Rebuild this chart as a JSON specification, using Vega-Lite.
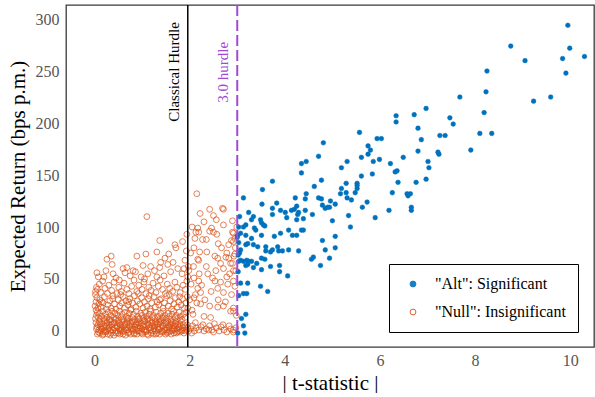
{
"$schema": "https://vega.github.io/schema/vega-lite/v6.json",
"width": 528, "height": 342,
"padding": {"left": 7, "top": 4, "right": 2, "bottom": 0},
"background": "white",
"config": {
  "font": "Liberation Serif",
  "view": {"stroke": "#3a3a3a", "strokeWidth": 1.3},
  "axis": {"domain": false, "ticks": false, "grid": false, "labelFont": "Liberation Serif", "titleFont": "Liberation Serif", "labelColor": "#555555", "labelFontSize": 16, "titleFontSize": 21, "titleFontWeight": "normal", "titleColor": "#000000"}
},
"datasets": {
"nul": [
{"t":0.04,"r":2},{"t":0.06,"r":-3},{"t":0.07,"r":6},{"t":0.09,"r":1},{"t":0.1,"r":9},{"t":0.11,"r":-2},{"t":0.13,"r":4},{"t":0.14,"r":0},{"t":0.16,"r":7},{"t":0.17,"r":-4},{"t":0.19,"r":3},{"t":0.2,"r":10},{"t":0.22,"r":1},{"t":0.23,"r":-1},{"t":0.25,"r":5},{"t":0.26,"r":8},{"t":0.28,"r":-3},{"t":0.29,"r":2},{"t":0.31,"r":6},{"t":0.32,"r":0},{"t":0.34,"r":9},{"t":0.35,"r":-2},{"t":0.37,"r":4},{"t":0.38,"r":1},{"t":0.4,"r":7},{"t":0.41,"r":-4},{"t":0.43,"r":3},{"t":0.44,"r":11},{"t":0.46,"r":0},{"t":0.47,"r":5},{"t":0.49,"r":-2},{"t":0.5,"r":8},{"t":0.52,"r":2},{"t":0.53,"r":-3},{"t":0.55,"r":6},{"t":0.56,"r":1},{"t":0.58,"r":9},{"t":0.59,"r":-1},{"t":0.61,"r":4},{"t":0.62,"r":0},{"t":0.64,"r":7},{"t":0.65,"r":-4},{"t":0.67,"r":3},{"t":0.68,"r":10},{"t":0.7,"r":1},{"t":0.71,"r":-2},{"t":0.73,"r":5},{"t":0.74,"r":8},{"t":0.76,"r":-3},{"t":0.77,"r":2},{"t":0.79,"r":6},{"t":0.8,"r":0},{"t":0.82,"r":9},{"t":0.83,"r":-2},{"t":0.85,"r":4},{"t":0.86,"r":1},{"t":0.88,"r":7},{"t":0.89,"r":-3},{"t":0.91,"r":3},{"t":0.92,"r":11},{"t":0.94,"r":0},{"t":0.95,"r":5},{"t":0.97,"r":-1},{"t":0.98,"r":8},{"t":1.0,"r":2},{"t":1.01,"r":-3},{"t":1.03,"r":6},{"t":1.04,"r":1},{"t":1.06,"r":9},{"t":1.07,"r":-1},{"t":1.09,"r":4},{"t":1.1,"r":0},{"t":1.12,"r":7},{"t":1.13,"r":-4},{"t":1.15,"r":3},{"t":1.16,"r":10},{"t":1.18,"r":1},{"t":1.19,"r":-2},{"t":1.21,"r":5},{"t":1.22,"r":8},{"t":1.24,"r":-3},{"t":1.25,"r":2},{"t":1.27,"r":6},{"t":1.28,"r":0},{"t":1.3,"r":9},{"t":1.31,"r":-2},{"t":1.33,"r":4},{"t":1.34,"r":1},{"t":1.36,"r":7},{"t":1.37,"r":-3},{"t":1.39,"r":3},{"t":1.4,"r":10},{"t":1.42,"r":0},{"t":1.43,"r":5},{"t":1.45,"r":-1},{"t":1.46,"r":8},{"t":1.48,"r":2},{"t":1.49,"r":-3},{"t":1.51,"r":6},{"t":1.52,"r":1},{"t":1.54,"r":9},{"t":1.55,"r":-1},{"t":1.57,"r":4},{"t":1.58,"r":0},{"t":1.6,"r":7},{"t":1.61,"r":-3},{"t":1.63,"r":3},{"t":1.64,"r":8},{"t":1.66,"r":1},{"t":1.67,"r":-2},{"t":1.69,"r":5},{"t":1.7,"r":7},{"t":1.72,"r":-2},{"t":1.73,"r":2},{"t":1.75,"r":6},{"t":1.76,"r":0},{"t":1.78,"r":4},{"t":1.8,"r":-1},{"t":1.82,"r":5},{"t":1.84,"r":1},{"t":1.86,"r":3},{"t":1.88,"r":-2},{"t":1.9,"r":4},{"t":1.93,"r":1},{"t":1.96,"r":3},
{"t":0.05,"r":4},{"t":0.08,"r":-1},{"t":0.12,"r":7},{"t":0.15,"r":2},{"t":0.18,"r":-3},{"t":0.21,"r":5},{"t":0.24,"r":0},{"t":0.27,"r":9},{"t":0.3,"r":3},{"t":0.33,"r":-4},{"t":0.36,"r":6},{"t":0.39,"r":1},{"t":0.42,"r":8},{"t":0.45,"r":-2},{"t":0.48,"r":4},{"t":0.51,"r":10},{"t":0.54,"r":0},{"t":0.57,"r":3},{"t":0.6,"r":-3},{"t":0.63,"r":6},{"t":0.66,"r":1},{"t":0.69,"r":8},{"t":0.72,"r":-1},{"t":0.75,"r":4},{"t":0.78,"r":9},{"t":0.81,"r":2},{"t":0.84,"r":-3},{"t":0.87,"r":6},{"t":0.9,"r":0},{"t":0.93,"r":7},{"t":0.96,"r":3},{"t":0.99,"r":-2},{"t":1.02,"r":5},{"t":1.05,"r":10},{"t":1.08,"r":1},{"t":1.11,"r":-3},{"t":1.14,"r":6},{"t":1.17,"r":3},{"t":1.2,"r":8},{"t":1.23,"r":0},{"t":1.26,"r":4},{"t":1.29,"r":-3},{"t":1.32,"r":7},{"t":1.35,"r":2},{"t":1.38,"r":9},{"t":1.41,"r":-1},{"t":1.44,"r":5},{"t":1.47,"r":1},{"t":1.5,"r":8},{"t":1.53,"r":-2},{"t":1.56,"r":3},{"t":1.59,"r":6},{"t":1.62,"r":0},{"t":1.65,"r":5},{"t":1.68,"r":2},{"t":1.71,"r":9},{"t":1.74,"r":-1},{"t":1.77,"r":3},{"t":1.79,"r":7},{"t":1.83,"r":0},{"t":1.87,"r":6},{"t":1.91,"r":0},{"t":1.95,"r":6},{"t":1.98,"r":0},
{"t":2.02,"r":2},{"t":2.06,"r":5},{"t":2.1,"r":0},{"t":2.14,"r":3},{"t":2.19,"r":1},{"t":2.24,"r":4},{"t":2.3,"r":0},{"t":2.35,"r":2},{"t":2.42,"r":5},{"t":2.47,"r":1},{"t":2.5,"r":-1},{"t":2.56,"r":3},{"t":2.62,"r":0},{"t":2.66,"r":4},{"t":2.72,"r":1},{"t":2.78,"r":-1},{"t":2.86,"r":2},{"t":2.92,"r":1},{"t":2.97,"r":3},{"t":2.04,"r":-2},{"t":2.12,"r":8},{"t":2.28,"r":6},{"t":2.4,"r":1},{"t":2.52,"r":7},{"t":2.7,"r":6},{"t":2.83,"r":5},
{"t":0.02,"r":12},{"t":0.04,"r":15},{"t":0.06,"r":18},{"t":0.03,"r":20},{"t":0.08,"r":13},{"t":0.1,"r":17},{"t":0.12,"r":11},{"t":0.15,"r":14},{"t":0.17,"r":19},{"t":0.2,"r":12},{"t":0.23,"r":16},{"t":0.26,"r":13},{"t":0.29,"r":18},{"t":0.31,"r":11},{"t":0.34,"r":15},{"t":0.37,"r":19},{"t":0.4,"r":13},{"t":0.43,"r":17},{"t":0.46,"r":12},{"t":0.49,"r":15},{"t":0.52,"r":19},{"t":0.55,"r":13},{"t":0.58,"r":16},{"t":0.61,"r":11},{"t":0.64,"r":18},{"t":0.67,"r":14},{"t":0.7,"r":12},{"t":0.73,"r":17},{"t":0.76,"r":20},{"t":0.79,"r":13},{"t":0.82,"r":16},{"t":0.85,"r":11},{"t":0.88,"r":19},{"t":0.91,"r":14},{"t":0.94,"r":12},{"t":0.97,"r":17},{"t":1.0,"r":15},{"t":1.03,"r":12},{"t":1.06,"r":18},{"t":1.09,"r":14},{"t":1.12,"r":11},{"t":1.15,"r":16},{"t":1.18,"r":19},{"t":1.21,"r":13},{"t":1.24,"r":15},{"t":1.27,"r":12},{"t":1.3,"r":18},{"t":1.33,"r":14},{"t":1.36,"r":11},{"t":1.39,"r":17},{"t":1.42,"r":13},{"t":1.45,"r":19},{"t":1.48,"r":15},{"t":1.51,"r":12},{"t":1.54,"r":17},{"t":1.57,"r":14},{"t":1.6,"r":11},{"t":1.63,"r":16},{"t":1.66,"r":19},{"t":1.69,"r":13},{"t":1.72,"r":15},{"t":1.75,"r":12},{"t":1.78,"r":18},{"t":1.81,"r":14},{"t":1.84,"r":11},{"t":1.87,"r":16},{"t":1.9,"r":13},{"t":1.93,"r":18},
{"t":0.01,"r":24},{"t":0.03,"r":28},{"t":0.05,"r":32},{"t":0.02,"r":35},{"t":0.07,"r":22},{"t":0.09,"r":26},{"t":0.11,"r":30},{"t":0.14,"r":23},{"t":0.18,"r":27},{"t":0.21,"r":33},{"t":0.25,"r":21},{"t":0.28,"r":25},{"t":0.32,"r":29},{"t":0.35,"r":22},{"t":0.39,"r":34},{"t":0.42,"r":26},{"t":0.45,"r":21},{"t":0.5,"r":30},{"t":0.53,"r":24},{"t":0.57,"r":27},{"t":0.6,"r":33},{"t":0.63,"r":22},{"t":0.66,"r":29},{"t":0.7,"r":25},{"t":0.74,"r":31},{"t":0.77,"r":21},{"t":0.8,"r":27},{"t":0.84,"r":34},{"t":0.87,"r":23},{"t":0.9,"r":29},{"t":0.95,"r":26},{"t":0.99,"r":32},{"t":1.02,"r":22},{"t":1.05,"r":28},{"t":1.1,"r":24},{"t":1.13,"r":31},{"t":1.17,"r":21},{"t":1.2,"r":27},{"t":1.25,"r":33},{"t":1.28,"r":23},{"t":1.32,"r":28},{"t":1.35,"r":25},{"t":1.4,"r":31},{"t":1.44,"r":22},{"t":1.47,"r":27},{"t":1.52,"r":34},{"t":1.55,"r":24},{"t":1.59,"r":29},{"t":1.62,"r":21},{"t":1.67,"r":26},{"t":1.7,"r":32},{"t":1.74,"r":23},{"t":1.77,"r":28},{"t":1.82,"r":25},{"t":1.85,"r":31},{"t":1.89,"r":22},{"t":1.92,"r":27},{"t":1.95,"r":33},
{"t":0.02,"r":38},{"t":0.04,"r":42},{"t":0.06,"r":40},{"t":0.1,"r":45},{"t":0.13,"r":37},{"t":0.17,"r":48},{"t":0.22,"r":41},{"t":0.27,"r":36},{"t":0.3,"r":44},{"t":0.36,"r":39},{"t":0.41,"r":47},{"t":0.47,"r":36},{"t":0.51,"r":42},{"t":0.56,"r":38},{"t":0.62,"r":46},{"t":0.68,"r":40},{"t":0.72,"r":36},{"t":0.78,"r":43},{"t":0.83,"r":49},{"t":0.89,"r":38},{"t":0.93,"r":44},{"t":1.0,"r":40},{"t":1.04,"r":47},{"t":1.08,"r":36},{"t":1.14,"r":42},{"t":1.19,"r":39},{"t":1.23,"r":46},{"t":1.29,"r":37},{"t":1.34,"r":43},{"t":1.38,"r":49},{"t":1.43,"r":40},{"t":1.49,"r":36},{"t":1.53,"r":45},{"t":1.58,"r":41},{"t":1.64,"r":38},{"t":1.69,"r":47},{"t":1.73,"r":42},{"t":1.8,"r":37},{"t":1.86,"r":44},{"t":1.91,"r":40},{"t":1.94,"r":48},
{"t":0.05,"r":56},{"t":0.08,"r":52},{"t":0.24,"r":58},{"t":0.35,"r":72},{"t":0.37,"r":64},{"t":0.39,"r":55},{"t":0.45,"r":51},{"t":0.6,"r":60},{"t":0.64,"r":56},{"t":0.68,"r":61},{"t":0.75,"r":53},{"t":0.86,"r":57},{"t":0.98,"r":52},{"t":1.02,"r":63},{"t":1.12,"r":55},{"t":1.18,"r":62},{"t":1.26,"r":58},{"t":1.37,"r":61},{"t":1.39,"r":66},{"t":1.46,"r":53},{"t":1.54,"r":64},{"t":1.6,"r":57},{"t":1.75,"r":60},{"t":1.84,"r":55},{"t":1.9,"r":68},{"t":1.96,"r":52},{"t":1.97,"r":62},
{"t":0.89,"r":72},{"t":1.08,"r":74},{"t":1.31,"r":76},{"t":1.37,"r":87},{"t":1.56,"r":74},{"t":1.69,"r":83},{"t":1.71,"r":80},{"t":1.1,"r":110},{"t":1.94,"r":93},{"t":0.26,"r":69},{"t":1.48,"r":70},
{"t":2.15,"r":132},{"t":2.42,"r":117},{"t":2.69,"r":118},{"t":2.71,"r":117},{"t":2.5,"r":111},{"t":2.17,"r":99},{"t":2.13,"r":95},{"t":2.19,"r":95},{"t":2.11,"r":89},{"t":2.27,"r":88},{"t":2.42,"r":96},{"t":2.5,"r":95},{"t":2.57,"r":93},{"t":2.71,"r":102},{"t":2.46,"r":99},
{"t":2.9,"r":95},{"t":2.95,"r":89},{"t":2.92,"r":86},{"t":2.88,"r":87},{"t":2.82,"r":83},{"t":2.78,"r":75},{"t":2.67,"r":80},{"t":2.76,"r":71},{"t":2.59,"r":70},{"t":2.82,"r":70},{"t":2.86,"r":65},{"t":2.9,"r":65},{"t":2.65,"r":65},{"t":2.53,"r":72},{"t":2.36,"r":76},{"t":2.21,"r":76},{"t":2.17,"r":69},{"t":2.09,"r":80},{"t":2.02,"r":75},{"t":2.19,"r":68},
{"t":1.98,"r":58},{"t":2.09,"r":51},{"t":2.19,"r":48},{"t":2.17,"r":41},{"t":2.23,"r":37},{"t":2.38,"r":55},{"t":2.48,"r":51},{"t":2.53,"r":48},{"t":2.59,"r":41},{"t":2.71,"r":37},{"t":2.8,"r":45},{"t":2.84,"r":55},{"t":2.71,"r":60},{"t":2.92,"r":48},{"t":2.09,"r":32},{"t":2.23,"r":26},{"t":2.42,"r":24},{"t":2.59,"r":23},{"t":2.71,"r":24},{"t":1.96,"r":22},{"t":2.3,"r":14},{"t":2.44,"r":13},{"t":2.07,"r":16},{"t":2.86,"r":19},{"t":2.92,"r":22},
{"t":2.0,"r":30},{"t":2.03,"r":45},{"t":2.05,"r":20},{"t":2.08,"r":62},{"t":2.12,"r":35},{"t":2.15,"r":27},{"t":2.2,"r":55},{"t":2.25,"r":44},{"t":2.32,"r":30},{"t":2.35,"r":62},{"t":2.45,"r":38},{"t":2.55,"r":58},{"t":2.6,"r":30},{"t":2.65,"r":47},{"t":2.75,"r":28},{"t":2.78,"r":52},{"t":2.88,"r":35},{"t":2.95,"r":43},{"t":2.97,"r":58},{"t":2.98,"r":15},{"t":2.93,"r":72},{"t":2.96,"r":80},{"t":2.99,"r":100},{"t":2.9,"r":106},{"t":2.6,"r":84},{"t":2.35,"r":88},{"t":2.3,"r":105},{"t":2.05,"r":100},{"t":2.22,"r":113},{"t":2.56,"r":107},
{"t":2.92,"r":94},{"t":2.95,"r":74},{"t":2.92,"r":58},{"t":2.92,"r":19},{"t":2.92,"r":-1},
{"t":0.03,"r":8},{"t":0.19,"r":-1},{"t":0.33,"r":11},{"t":0.54,"r":6},{"t":0.71,"r":12},{"t":0.9,"r":9},{"t":1.11,"r":12},{"t":1.28,"r":8},{"t":1.44,"r":12},{"t":1.62,"r":9},{"t":1.8,"r":10},{"t":0.15,"r":28},{"t":0.38,"r":31},{"t":0.55,"r":35},{"t":0.72,"r":28},{"t":0.92,"r":36},{"t":1.15,"r":34},{"t":1.37,"r":30},{"t":1.57,"r":35},{"t":1.79,"r":33},{"t":0.2,"r":52},{"t":0.52,"r":49},{"t":0.81,"r":58},{"t":1.05,"r":50},{"t":1.31,"r":52},{"t":1.65,"r":66},{"t":1.88,"r":60},{"t":1.93,"r":77},{"t":1.85,"r":86}
],
"alt": [
{"t":3.13,"r":128},{"t":3.53,"r":136},{"t":3.74,"r":144},{"t":4.22,"r":128},{"t":4.35,"r":152},{"t":4.35,"r":161},{"t":4.45,"r":163},{"t":4.45,"r":132},{"t":4.43,"r":127},{"t":4.62,"r":139},{"t":4.71,"r":168},{"t":4.77,"r":145},{"t":4.81,"r":181},{"t":4.71,"r":128},{"t":4.77,"r":127},{"t":4.96,"r":125},{"t":5.19,"r":157},{"t":5.17,"r":132},{"t":5.19,"r":137},{"t":5.29,"r":142},{"t":5.31,"r":163},{"t":5.29,"r":133},{"t":5.31,"r":128},{"t":5.4,"r":126},{"t":5.48,"r":133},{"t":5.52,"r":142},{"t":5.52,"r":140},{"t":5.52,"r":137},{"t":5.57,"r":191},{"t":5.61,"r":167},{"t":5.61,"r":149},{"t":5.75,"r":178},{"t":5.8,"r":174},{"t":5.75,"r":170},{"t":5.84,"r":151},{"t":5.86,"r":163},{"t":5.94,"r":185},{"t":6.03,"r":185},{"t":5.99,"r":165},{"t":6.22,"r":161},{"t":6.26,"r":133},{"t":6.34,"r":207},{"t":6.34,"r":201},{"t":6.32,"r":153},{"t":6.36,"r":154},{"t":6.38,"r":143},{"t":6.49,"r":167},{"t":6.57,"r":132},{"t":6.64,"r":132},{"t":6.72,"r":208},{"t":6.76,"r":143},{"t":6.8,"r":173},{"t":6.8,"r":195},{"t":6.87,"r":184},{"t":6.97,"r":214},{"t":6.97,"r":146},{"t":7.01,"r":163},{"t":7.03,"r":157},{"t":9.95,"r":294},{"t":9.99,"r":272},{"t":10.3,"r":264},{"t":9.84,"r":262},{"t":9.91,"r":248},{"t":8.75,"r":274},{"t":9.05,"r":260},{"t":8.25,"r":250},{"t":8.23,"r":230},{"t":9.23,"r":221},{"t":9.59,"r":225},{"t":7.68,"r":225},{"t":8.19,"r":210},{"t":7.47,"r":205},{"t":7.54,"r":199},{"t":7.26,"r":188},{"t":7.37,"r":188},{"t":8.1,"r":190},{"t":8.35,"r":190},{"t":7.91,"r":174},{"t":7.24,"r":170},{"t":6.66,"r":116},{"t":7.22,"r":172},{"t":6.19,"r":116},{"t":6.66,"r":119},{"t":5.63,"r":119},{"t":5.73,"r":124},{"t":5.34,"r":111},{"t":5.9,"r":109},{"t":5.38,"r":100},{"t":6.59,"r":130},
{"t":3.52,"r":122},{"t":3.83,"r":123},{"t":3.74,"r":118},{"t":3.74,"r":112},{"t":3.91,"r":116},{"t":4.01,"r":114},{"t":4.14,"r":116},{"t":4.2,"r":117},{"t":4.25,"r":120},{"t":4.29,"r":114},{"t":4.27,"r":112},{"t":4.43,"r":116},{"t":4.79,"r":121},{"t":4.9,"r":119},{"t":4.85,"r":118},{"t":4.94,"r":119},{"t":5.06,"r":122},{"t":4.58,"r":112},{"t":3.24,"r":114},{"t":3.34,"r":110},{"t":3.3,"r":107},{"t":3.49,"r":107},{"t":4.04,"r":109},{"t":4.25,"r":107},{"t":4.39,"r":108},{"t":5.0,"r":106},{"t":3.13,"r":100},{"t":3.18,"r":102},{"t":3.36,"r":99},{"t":3.39,"r":97},{"t":3.51,"r":104},{"t":3.55,"r":102},{"t":4.08,"r":97},{"t":4.35,"r":97},{"t":4.39,"r":97},{"t":3.58,"r":101},{"t":3.01,"r":92},{"t":3.18,"r":92},{"t":3.3,"r":89},{"t":3.51,"r":92},{"t":3.78,"r":91},{"t":3.91,"r":94},{"t":4.16,"r":92},{"t":4.25,"r":92},{"t":3.03,"r":85},{"t":3.07,"r":78},{"t":3.05,"r":75},{"t":3.18,"r":83},{"t":3.22,"r":84},{"t":3.34,"r":83},{"t":3.43,"r":81},{"t":3.6,"r":81},{"t":3.6,"r":77},{"t":3.74,"r":78},{"t":3.7,"r":76},{"t":3.85,"r":81},{"t":3.87,"r":77},{"t":3.95,"r":77},{"t":4.08,"r":78},{"t":4.29,"r":77},{"t":4.79,"r":87},{"t":5.06,"r":91},{"t":4.85,"r":78},{"t":5.06,"r":80},{"t":4.56,"r":69},{"t":4.6,"r":71},{"t":4.94,"r":70},{"t":4.75,"r":63},{"t":3.03,"r":67},{"t":3.07,"r":68},{"t":3.13,"r":67},{"t":3.2,"r":68},{"t":3.24,"r":67},{"t":3.3,"r":67},{"t":3.18,"r":63},{"t":3.22,"r":64},{"t":3.41,"r":65},{"t":3.51,"r":70},{"t":3.58,"r":69},{"t":3.34,"r":61},{"t":3.51,"r":59},{"t":3.7,"r":62},{"t":3.89,"r":63},{"t":3.89,"r":57},{"t":4.06,"r":53},{"t":3.02,"r":57},{"t":3.07,"r":46},{"t":3.22,"r":46},{"t":3.49,"r":43},{"t":3.64,"r":38},{"t":3.03,"r":34},{"t":3.13,"r":36},{"t":3.2,"r":36},{"t":3.18,"r":16},{"t":3.09,"r":12},{"t":3.13,"r":5},{"t":3.01,"r":-2},{"t":3.16,"r":-2},{"t":3.0,"r":90},{"t":3.07,"r":94},{"t":3.03,"r":100},{"t":3.05,"r":110},{"t":3.02,"r":73}
],
"one": [{}]
},
"layer": [
  {"data": {"name": "nul"}, "mark": {"type": "point", "shape": "circle", "size": 34, "strokeWidth": 0.8, "opacity": 0.9},
   "encoding": {
     "x": {"field": "t", "type": "quantitative", "scale": {"domain": [-0.6, 10.5], "nice": false, "zero": false}, "axis": {"values": [0,2,4,6,8,10], "labelPadding": 5, "title": "| t-statistic |", "titlePadding": 4}},
     "y": {"field": "r", "type": "quantitative", "scale": {"domain": [-15.4, 313.5], "nice": false, "zero": false}, "axis": {"values": [0,50,100,150,200,250,300], "labelPadding": 7, "title": "Expected Return (bps p.m.)", "titlePadding": 7}},
     "fill": {"datum": "\"Null\": Insignificant", "scale": {"domain": ["\"Alt\": Significant", "\"Null\": Insignificant"], "range": ["#0072BD", "transparent"]}, "legend": {"title": null, "orient": "none", "legendX": 323, "legendY": 259, "strokeColor": "#000000", "fillColor": "white", "padding": 12, "labelFontSize": 16, "labelFont": "Liberation Serif", "labelColor": "#000000", "symbolSize": 34, "symbolStrokeWidth": 1, "rowPadding": 12, "labelOffset": 14, "symbolOffset": 4}},
     "stroke": {"datum": "\"Null\": Insignificant", "scale": {"domain": ["\"Alt\": Significant", "\"Null\": Insignificant"], "range": ["#0072BD", "#D95319"]}, "legend": {"title": null, "orient": "none", "legendX": 323, "legendY": 259, "strokeColor": "#000000", "fillColor": "white", "padding": 12, "labelFontSize": 16, "labelFont": "Liberation Serif", "labelColor": "#000000", "symbolSize": 34, "symbolStrokeWidth": 1, "rowPadding": 12, "labelOffset": 14, "symbolOffset": 4}}
   }},
  {"data": {"name": "alt"}, "mark": {"type": "point", "shape": "circle", "filled": true, "size": 22, "opacity": 1, "strokeWidth": 0.5},
   "encoding": {"x": {"field": "t", "type": "quantitative"}, "y": {"field": "r", "type": "quantitative"},
     "fill": {"datum": "\"Alt\": Significant"},
     "stroke": {"datum": "\"Alt\": Significant"}
   }},
  {"data": {"name": "one"}, "mark": {"type": "rule", "color": "#000000", "strokeWidth": 1.5}, "encoding": {"x": {"datum": 1.96, "type": "quantitative"}}},
  {"data": {"name": "one"}, "mark": {"type": "rule", "color": "#A24BD2", "strokeWidth": 2, "strokeDash": [11, 4]}, "encoding": {"x": {"datum": 3.0, "type": "quantitative"}}},
  {"data": {"name": "one"}, "mark": {"type": "text", "text": "Classical Hurdle", "angle": 270, "align": "right", "baseline": "middle", "dy": -14, "fontSize": 15, "font": "Liberation Serif", "color": "#000000"}, "encoding": {"x": {"datum": 1.96, "type": "quantitative"}, "y": {"datum": 297, "type": "quantitative"}}},
  {"data": {"name": "one"}, "mark": {"type": "text", "text": "3.0 hurdle", "angle": 270, "align": "right", "baseline": "middle", "dy": -14, "fontSize": 15, "font": "Liberation Serif", "color": "#A24BD2"}, "encoding": {"x": {"datum": 3.0, "type": "quantitative"}, "y": {"datum": 278, "type": "quantitative"}}}
]
}
